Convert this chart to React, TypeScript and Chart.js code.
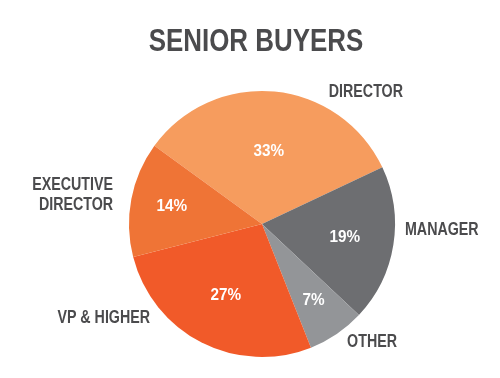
import React, { useEffect, useRef } from "react";
import { Chart, registerables } from "chart.js";

Chart.register(...registerables);

const categories = ["DIRECTOR", "MANAGER", "OTHER", "VP & HIGHER", "EXECUTIVE DIRECTOR"];
const values = [33, 19, 7, 27, 14];
const percentLabels = ["33%", "19%", "7%", "27%", "14%"];
const outerLabelLines = [["DIRECTOR"], ["MANAGER"], ["OTHER"], ["VP & HIGHER"], ["EXECUTIVE", "DIRECTOR"]];
const titleText = "SENIOR BUYERS";

const colors = ["#F69C5E", "#6D6E71", "#939598", "#F15A29", "#EF7436"];
const TEXT = "#4B4B4D";
const FONT = "'Liberation Sans', Arial, sans-serif";

// label layout (relative to the pie's centre, in radii / degrees clockwise from top)
const pctRadius = [0.55, 0.63, 0.69, 0.6, 0.69];
const outerAngle = [38.2, 92.4, 137, 230, 281];
const outerDist = [1.263, 1.076, 1.213, 1.099, 1.141];
const outerAlign: CanvasTextAlign[] = ["center", "left", "center", "right", "right"];

function drawText(ctx: CanvasRenderingContext2D, text: string, x: number, y: number, align: CanvasTextAlign, font: string, sx: number) {
  ctx.save();
  ctx.translate(x, y);
  ctx.scale(sx, 1);
  ctx.font = font;
  ctx.textAlign = align;
  ctx.textBaseline = "middle";
  ctx.fillText(text, 0, 0);
  ctx.restore();
}

const labelPlugin = {
  id: "labels",
  afterDatasetsDraw(chart: any) {
    const ctx = chart.ctx as CanvasRenderingContext2D;
    const meta = chart.getDatasetMeta(0);
    ctx.save();
    ctx.fillStyle = TEXT;
    drawText(ctx, titleText, 256, 42, "center", `bold 32px ${FONT}`, 0.81);

    meta.data.forEach((arc: any, i: number) => {
      const { x, y, startAngle, endAngle, outerRadius } = arc.getProps(
        ["x", "y", "startAngle", "endAngle", "outerRadius"],
        true
      );
      const mid = (startAngle + endAngle) / 2;
      const r = outerRadius * pctRadius[i];
      ctx.fillStyle = "#FFFFFF";
      drawText(ctx, percentLabels[i], x + Math.cos(mid) * r, y + Math.sin(mid) * r, "center", `bold 17px ${FONT}`, 0.9);

      const a = ((outerAngle[i] - 90) * Math.PI) / 180;
      const d = outerRadius * outerDist[i];
      const lx = x + Math.cos(a) * d;
      const ly = y + Math.sin(a) * d;
      ctx.fillStyle = TEXT;
      const lines = outerLabelLines[i];
      const lh = 20;
      lines.forEach((t, j) => {
        drawText(ctx, t, lx, ly + (j - (lines.length - 1) / 2) * lh, outerAlign[i], `bold 19px ${FONT}`, 0.75);
      });
    });
    ctx.restore();
  },
};

export default function App() {
  const ref = useRef<HTMLCanvasElement>(null);
  useEffect(() => {
    document.body.style.margin = "0";
    const chart = new Chart(ref.current!, {
      type: "pie",
      data: {
        labels: categories,
        datasets: [
          {
            data: values,
            backgroundColor: colors,
            borderWidth: 0,
          },
        ],
      },
      options: {
        animation: false,
        responsive: false,
        rotation: -54,
        layout: { padding: { left: 129, right: 105, top: 91, bottom: 21 } },
        plugins: {
          legend: { display: false },
          tooltip: { enabled: false },
          title: { display: false },
        },
      },
      plugins: [labelPlugin],
    });
    return () => chart.destroy();
  }, []);
  return (
    <div style={{ width: 500, height: 378, background: "#fff" }}>
      <canvas ref={ref} width={500} height={378} style={{ display: "block" }} />
    </div>
  );
}
